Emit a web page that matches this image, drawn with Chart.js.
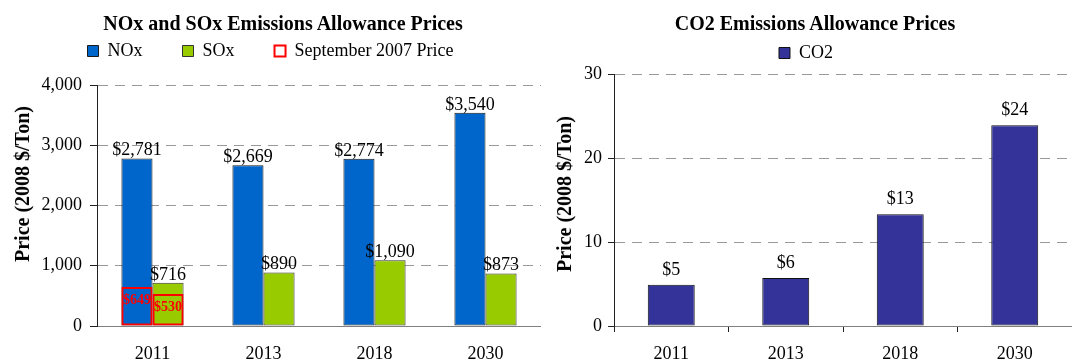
<!DOCTYPE html>
<html>
<head>
<meta charset="utf-8">
<title>Emissions Allowance Prices</title>
<script src="https://cdn.jsdelivr.net/npm/chart.js@4.4.1/dist/chart.umd.min.js"></script>
<style>
  html, body { margin: 0; padding: 0; background: #fff; }
  #page { position: relative; width: 1072px; height: 362px; overflow: hidden; font-family: 'Liberation Serif', 'Times New Roman', serif; color: #000; }
  #page canvas { position: absolute; top: 0; }
  .chart-title { position: absolute; top: 11px; transform: translateX(-50%); font-weight: bold; font-size: 20px; line-height: 24px; white-space: nowrap; }
  .axis-title { position: absolute; transform: translate(-50%, -50%) rotate(-90deg); font-weight: bold; font-size: 20px; line-height: 24px; white-space: nowrap; }
</style>
</head>
<body>
<div id="page">
  <canvas id="noxSox" width="541" height="362" style="left:0"></canvas>
  <canvas id="co2" width="532" height="362" style="left:540px"></canvas>
  <div class="chart-title" style="left:283px">NOx and SOx Emissions Allowance Prices</div>
  <div class="chart-title" style="left:815px">CO2 Emissions Allowance Prices</div>
  <div class="axis-title" style="left:22px;top:184px">Price (2008 $/Ton)</div>
  <div class="axis-title" style="left:564px;top:194px">Price (2008 $/Ton)</div>
</div>
<script>
const YEARS = ['2011', '2013', '2018', '2030']
const NOX_PRICES = [2781, 2669, 2774, 3540]
const SOX_PRICES = [716, 890, 1090, 873]
// September 2007 prices, only known for the first year
const SEPT_2007_NOX = [649, null, null, null]
const SEPT_2007_SOX = [530, null, null, null]
const CO2_PRICES = [4.9, 5.7, 13.3, 23.9]

const NOX_SOX_TICKS = [0, 1000, 2000, 3000, 4000]
const CO2_TICKS = [0, 10, 20, 30]

Chart.defaults.font.family = "'Liberation Serif', 'Times New Roman', serif"
Chart.defaults.color = '#000'

const dollars = (v) => '$' + Math.round(v).toLocaleString('en-US')

const PRICE_LABEL = { font: '18px "Liberation Serif"', color: '#000', offset: 3 }
const CO2_LABEL = { font: '18px "Liberation Serif"', color: '#000', offset: 10 }
const SEPT_LABEL = { font: 'bold 14px "Liberation Serif"', color: '#FF0000', offset: 13, inside: true }

// Writes the price above (or inside) each bar
const barValuesPlugin = {
  id: 'barValues',
  afterDatasetsDraw(chart) {
    const ctx = chart.ctx
    chart.data.datasets.forEach((ds, i) => {
      const lbl = ds.valueLabel
      if (!lbl) return
      chart.getDatasetMeta(i).data.forEach((bar, j) => {
        const v = ds.data[j]
        if (v == null) return
        ctx.save()
        ctx.font = lbl.font
        ctx.fillStyle = lbl.color
        ctx.textAlign = 'center'
        ctx.textBaseline = lbl.inside ? 'middle' : 'alphabetic'
        ctx.fillText(dollars(v), bar.x, lbl.inside ? bar.y + lbl.offset : bar.y - lbl.offset)
        ctx.restore()
      })
    })
  }
}

// Extra room between the legend and the plot
const legendGapPlugin = {
  id: 'legendGap',
  beforeInit(chart, args, opts) {
    const fit = chart.legend.fit
    chart.legend.fit = function () {
      fit.call(this)
      this.height += opts.gap || 0
    }
  }
}

Chart.register(barValuesPlugin, legendGapPlugin)

function xAxis(tickColor) {
  return {
    stacked: true,
    grid: { drawOnChartArea: false, offset: true, tickLength: 6, tickColor, tickWidth: 1 },
    border: { color: '#808080', width: 1 },
    ticks: { color: '#000', font: { size: 18 }, padding: 11, maxRotation: 0 },
    afterFit: (scale) => { scale.height = 36 }
  }
}

function yAxis(ticks, width, tickLength, padding) {
  return {
    stacked: false,
    min: ticks[0],
    max: ticks[ticks.length - 1],
    afterBuildTicks: (scale) => { scale.ticks = ticks.map((value) => ({ value })) },
    grid: { color: '#999', lineWidth: 1, tickColor: '#222', tickLength, tickBorderDash: [] },
    border: { color: '#222', width: 1, dash: [10, 7] },
    ticks: { color: '#000', font: { size: 18 }, padding, callback: (v) => v.toLocaleString('en-US') },
    afterFit: (scale) => { scale.width = width }
  }
}

function legend(top) {
  return {
    labels: {
      color: '#000',
      font: { size: 18 },
      boxWidth: 11,
      boxHeight: 11,
      padding: 40,
      filter: (item, data) => !data.datasets[item.datasetIndex].legendHidden,
      sort: (a, b) => a.datasetIndex - b.datasetIndex
    },
    onClick: () => {}
  }
}

new Chart(document.getElementById('noxSox'), {
  type: 'bar',
  data: {
    labels: YEARS,
    datasets: [
      { label: 'NOx', data: NOX_PRICES, stack: 'nox', order: 1, backgroundColor: '#0066CC', borderColor: '#1a1a1a', borderWidth: 1, borderSkipped: false, valueLabel: PRICE_LABEL },
      { label: 'SOx', data: SOX_PRICES, stack: 'sox', order: 1, backgroundColor: '#99CC00', borderColor: '#333', borderWidth: 1, borderSkipped: false, valueLabel: PRICE_LABEL },
      { label: 'September 2007 Price', data: SEPT_2007_NOX, stack: 'nox', order: 0, backgroundColor: 'rgba(0,0,0,0)', borderColor: '#FF0000', borderWidth: 2, borderSkipped: false, valueLabel: SEPT_LABEL },
      { label: 'September 2007 Price', data: SEPT_2007_SOX, stack: 'sox', order: 0, backgroundColor: 'rgba(0,0,0,0)', borderColor: '#FF0000', borderWidth: 2, borderSkipped: false, valueLabel: SEPT_LABEL, legendHidden: true }
    ]
  },
  options: {
    responsive: false,
    animation: false,
    layout: { padding: { top: 2, left: 0, right: 0, bottom: 0 } },
    datasets: { bar: { categoryPercentage: 0.56, barPercentage: 1 } },
    plugins: {
      legend: legend(),
      legendGap: { gap: 15 },
      tooltip: { enabled: false }
    },
    scales: {
      x: xAxis('rgba(0,0,0,0)'),
      y: yAxis(NOX_SOX_TICKS, 97, 7, 8)
    }
  }
})

new Chart(document.getElementById('co2'), {
  type: 'bar',
  data: {
    labels: YEARS,
    datasets: [
      { label: 'CO2', data: CO2_PRICES, backgroundColor: '#333399', borderColor: '#111', borderWidth: 1, borderSkipped: false, valueLabel: CO2_LABEL }
    ]
  },
  options: {
    responsive: false,
    animation: false,
    layout: { padding: { top: 4, left: 0, right: 0, bottom: 0 } },
    datasets: { bar: { categoryPercentage: 0.41, barPercentage: 1 } },
    plugins: {
      legend: legend(),
      legendGap: { gap: 2 },
      tooltip: { enabled: false }
    },
    scales: {
      x: xAxis('#222'),
      y: yAxis(CO2_TICKS, 74, 6, 6)
    }
  }
})
</script>
</body>
</html>
